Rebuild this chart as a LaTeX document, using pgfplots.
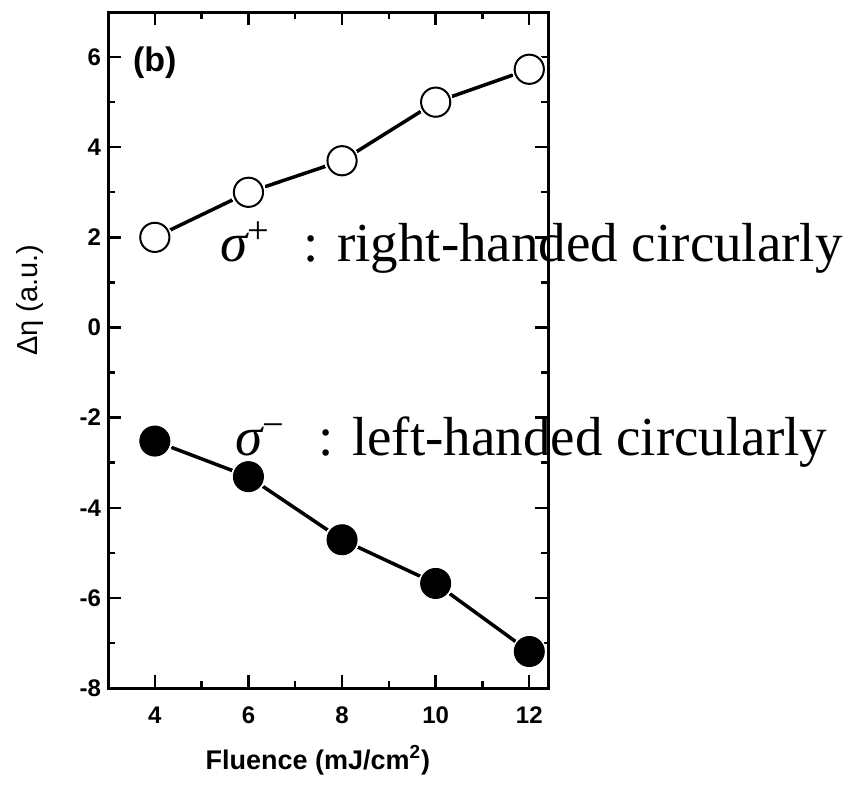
\documentclass[border=0pt]{standalone}
\usepackage{pgfplots}
\pgfplotsset{compat=1.18}
\usepackage{fontspec}
\setmainfont{Liberation Sans}
\newfontfamily\timesfont{Liberation Serif}
\pgfplotstableread{
x y
4 2.0
6 3.0
8 3.7
10 5.0
12 5.73
}\rightdata
\pgfplotstableread{
x y
4 -2.52
6 -3.31
8 -4.71
10 -5.68
12 -7.19
}\leftdata
\begin{document}
\begin{tikzpicture}
\begin{axis}[
 axis on top,
 scale only axis, width=220pt, height=338pt,
 xmin=3, xmax=12.4, ymin=-8, ymax=7,
 xtick={4,6,8,10,12}, ytick={-8,-6,-4,-2,0,2,4,6},
 minor x tick num=1, minor y tick num=1,
 tick align=inside, major tick length=6.5pt, minor tick length=3.5pt,
 every tick/.style={line width=1.2pt, black},
 axis line style={line width=1.5pt},
 tick label style={font=\fontsize{12}{12}\selectfont\bfseries},
 xticklabel style={yshift=-6pt},
 /pgf/number format/assume math mode=true,
 xlabel={Fluence (mJ/cm\textsuperscript{2})},
 xlabel style={font=\fontsize{13.5}{14}\selectfont\bfseries, at={(axis description cs:0.477,-0.1065)}, anchor=center},
 ylabel={Δη (a.u.)},
 ylabel style={font=\fontsize{14.5}{15}\selectfont, at={(axis description cs:-0.177,0.574)}, anchor=center},
 clip=false,
]
% lines
\addplot[black, line width=1.75pt, no marks] table {\rightdata};
\addplot[black, line width=1.75pt, no marks] table {\leftdata};
% white halos for gaps
\addplot[white, only marks, mark=*, mark size=8.5pt, mark options={fill=white, draw=white, line width=0pt}] table {\rightdata};
\addplot[white, only marks, mark=*, mark size=8.5pt, mark options={fill=white, draw=white, line width=0pt}] table {\leftdata};
% markers
\addplot[black, only marks, mark=*, mark size=7.3pt, mark options={fill=white, draw=black, line width=1pt}] table {\rightdata};
\addplot[black, only marks, mark=*, mark size=7.5pt, mark options={fill=black, draw=black, line width=0.5pt}] table {\leftdata};
\node[font=\fontsize{17}{17}\selectfont\bfseries] at (axis cs:4.0,5.87) {(b)};
\node[anchor=base west, inner sep=0pt, font=\timesfont\fontsize{27.5}{28}\selectfont] at (axis cs:5.4,1.46) {{\itshape σ}\textsuperscript{+}\hspace{0.6em}: right-handed circularly};
\node[anchor=base west, inner sep=0pt, font=\timesfont\fontsize{27.5}{28}\selectfont] at (axis cs:5.72,-2.85) {{\itshape σ}\textsuperscript{−}\hspace{0.6em}: left-handed circularly};
\path (axis description cs:-0.2455,-0.1538) rectangle (axis description cs:1.7159,1.0178);
\end{axis}
\end{tikzpicture}
\end{document}
